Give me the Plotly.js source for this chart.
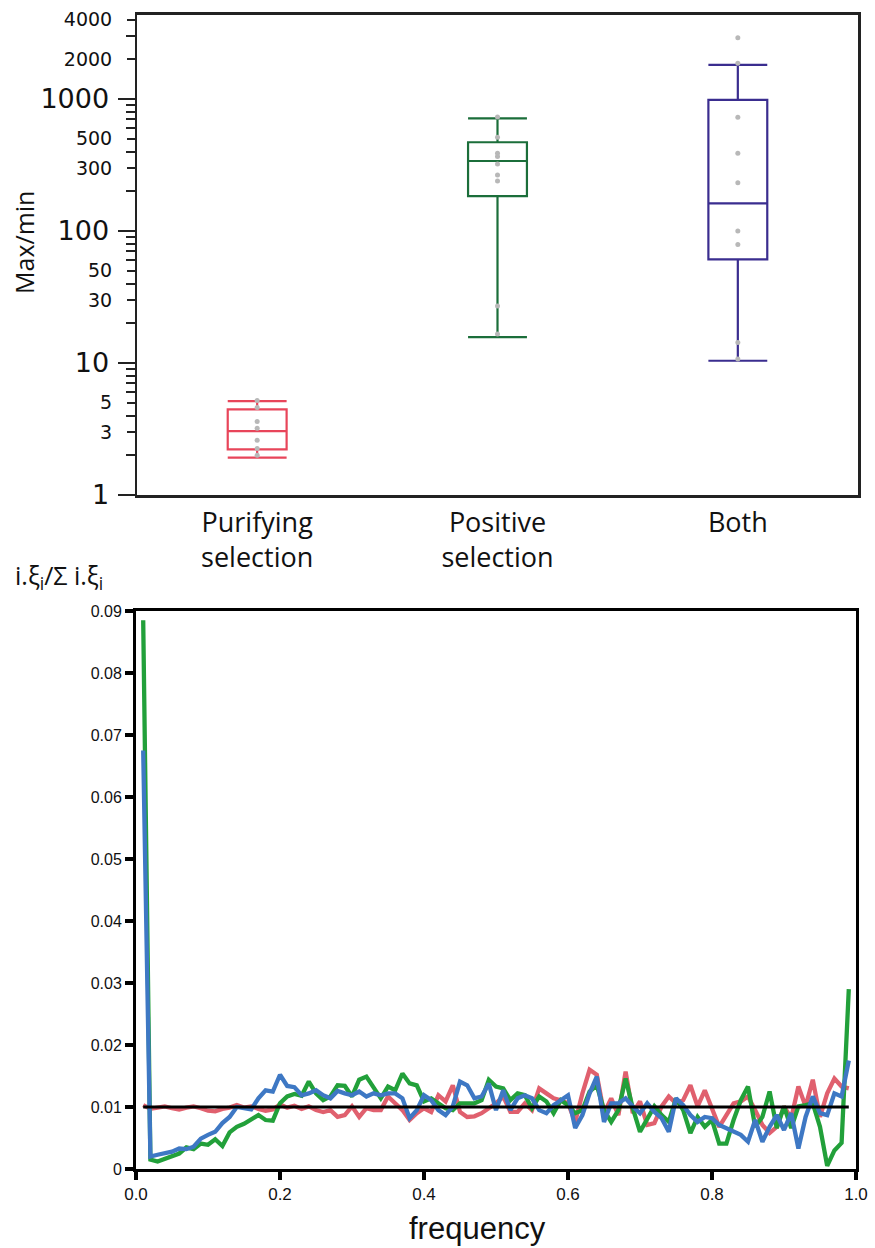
<!DOCTYPE html>
<html>
<head>
<meta charset="utf-8">
<script src="https://cdn.plot.ly/plotly-3.0.1.min.js"></script>
<style>html,body{margin:0;padding:0;background:#fff;}#chart{width:875px;height:1248px;}</style>
</head>
<body>
<div id="chart"></div>
<script>
// ---------- Top panel: box plots (log scale) ----------
const groupLabels = ['Purifying<br>selection', 'Positive<br>selection', 'Both'];
const groupPos = [0, 1, 2];
const boxLower  = [1.92, 15.7, 10.4];
const boxQ1     = [2.22, 184, 61];
const boxMedian = [3.05, 339, 162];
const boxQ3     = [4.46, 470, 983];
const boxUpper  = [5.15, 714, 1810];
const boxColors = ['#E8455A', '#1B6E3A', '#3A2D8F'];
const pointsPurifying = [5.2, 4.6, 3.6, 3.2, 2.6, 2.25, 2.0];
const pointsPositive  = [730, 513, 388, 366, 322, 266, 239, 27, 16.6];
const pointsBoth      = [2913, 1863, 727, 388, 232, 100, 79, 14.3, 10.7];

const majorTicks = [1, 10, 100, 1000];
const majorTickText = ['1', '10', '100', '1000'];
const labeledMinorTicks = [3, 5, 30, 50, 300, 500, 2000, 4000];
const labeledMinorText = ['3', '5', '30', '50', '300', '500', '2000', '4000'];
const unlabeledTicks = [2, 4, 6, 7, 8, 9, 20, 40, 60, 70, 80, 90, 200, 400, 600, 700, 800, 900, 3000];

// ---------- Bottom panel: site frequency spectrum ----------
const freq = [0.01,0.02,0.03,0.04,0.05,0.06,0.07,0.08,0.09,0.10,0.11,0.12,0.13,0.14,0.15,0.16,0.17,0.18,0.19,0.20,0.21,0.22,0.23,0.24,0.25,
0.26,0.27,0.28,0.29,0.30,0.31,0.32,0.33,0.34,0.35,0.36,0.37,0.38,0.39,0.40,0.41,0.42,0.43,0.44,0.45,0.46,0.47,0.48,0.49,0.50,
0.51,0.52,0.53,0.54,0.55,0.56,0.57,0.58,0.59,0.60,0.61,0.62,0.63,0.64,0.65,0.66,0.67,0.68,0.69,0.70,0.71,0.72,0.73,0.74,0.75,
0.76,0.77,0.78,0.79,0.80,0.81,0.82,0.83,0.84,0.85,0.86,0.87,0.88,0.89,0.90,0.91,0.92,0.93,0.94,0.95,0.96,0.97,0.98,0.99];
const redSeries = [0.0103,0.0097,0.0099,0.0101,0.0098,0.0096,0.0099,0.0101,0.0098,0.0094,0.0093,0.0097,0.0099,0.0103,0.0099,0.0101,0.0097,0.0094,0.0096,0.0104,0.0099,0.0102,0.0097,0.0101,0.0095,
0.0092,0.0095,0.0084,0.0087,0.0101,0.0084,0.0098,0.0095,0.0095,0.0117,0.0106,0.0095,0.0079,0.0090,0.0098,0.0092,0.0119,0.0109,0.0135,0.0092,0.0084,0.0085,0.0090,0.0098,0.0106,
0.0117,0.0092,0.0092,0.0106,0.0095,0.0130,0.0122,0.0114,0.0111,0.0106,0.0076,0.0122,0.0160,0.0152,0.0090,0.0114,0.0087,0.0157,0.0090,0.0109,0.0071,0.0074,0.0101,0.0117,0.0106,
0.0111,0.0135,0.0101,0.0127,0.0095,0.0068,0.0087,0.0106,0.0109,0.0117,0.0095,0.0071,0.0058,0.0068,0.0101,0.0082,0.0133,0.0101,0.0144,0.0084,0.0122,0.0146,0.0133,0.0130];
const greenSeries = [0.0885,0.0015,0.0012,0.0016,0.0020,0.0025,0.0035,0.0032,0.0041,0.0039,0.0048,0.0037,0.0059,0.0068,0.0073,0.0080,0.0087,0.0079,0.0078,0.0106,0.0117,0.0121,0.0118,0.0141,0.0122,
0.0111,0.0117,0.0135,0.0134,0.0117,0.0144,0.0149,0.0130,0.0114,0.0133,0.0127,0.0154,0.0138,0.0135,0.0109,0.0114,0.0106,0.0098,0.0095,0.0106,0.0106,0.0106,0.0111,0.0144,0.0133,
0.0130,0.0111,0.0122,0.0119,0.0098,0.0117,0.0109,0.0090,0.0111,0.0103,0.0090,0.0095,0.0125,0.0135,0.0095,0.0076,0.0095,0.0146,0.0098,0.0060,0.0082,0.0101,0.0087,0.0076,0.0114,
0.0095,0.0058,0.0084,0.0068,0.0079,0.0041,0.0041,0.0079,0.0111,0.0133,0.0068,0.0084,0.0125,0.0066,0.0101,0.0066,0.0101,0.0103,0.0106,0.0068,0.0005,0.0030,0.0042,0.0290];
const blueSeries = [0.0675,0.0020,0.0023,0.0025,0.0028,0.0033,0.0032,0.0036,0.0049,0.0055,0.0060,0.0074,0.0084,0.0100,0.0098,0.0096,0.0114,0.0127,0.0125,0.0152,0.0134,0.0132,0.0119,0.0122,0.0127,
0.0119,0.0114,0.0126,0.0122,0.0119,0.0125,0.0117,0.0122,0.0119,0.0122,0.0122,0.0114,0.0082,0.0095,0.0119,0.0111,0.0095,0.0087,0.0101,0.0141,0.0135,0.0114,0.0117,0.0138,0.0095,
0.0127,0.0095,0.0114,0.0119,0.0114,0.0095,0.0090,0.0103,0.0111,0.0119,0.0066,0.0087,0.0122,0.0149,0.0076,0.0106,0.0106,0.0114,0.0101,0.0090,0.0106,0.0092,0.0082,0.0060,0.0114,
0.0103,0.0087,0.0076,0.0084,0.0082,0.0071,0.0066,0.0060,0.0055,0.0044,0.0079,0.0044,0.0068,0.0087,0.0063,0.0090,0.0033,0.0084,0.0117,0.0090,0.0087,0.0122,0.0117,0.0175];
const neutralX = [0.01, 0.99];
const neutralY = [0.01, 0.01];
const sfsYTicks = [0, 0.01, 0.02, 0.03, 0.04, 0.05, 0.06, 0.07, 0.08, 0.09];
const sfsYText = ['0', '0.01', '0.02', '0.03', '0.04', '0.05', '0.06', '0.07', '0.08', '0.09'];
const sfsXTicks = [0, 0.2, 0.4, 0.6, 0.8, 1.0];
const sfsXText = ['0.0', '0.2', '0.4', '0.6', '0.8', '1.0'];

// ---------- Build traces ----------
const traces = [];
for (let k = 0; k < 3; k++) {
  traces.push({
    type: 'box', x: [groupPos[k]], q1: [boxQ1[k]], median: [boxMedian[k]], q3: [boxQ3[k]],
    lowerfence: [boxLower[k]], upperfence: [boxUpper[k]],
    width: 0.245, whiskerwidth: 1, boxpoints: false,
    line: {color: boxColors[k], width: 2.2}, fillcolor: 'rgba(255,255,255,0)',
    xaxis: 'x', yaxis: 'y', showlegend: false, hoverinfo: 'skip'
  });
}
const allPts = [pointsPurifying, pointsPositive, pointsBoth];
for (let k = 0; k < 3; k++) {
  traces.push({
    type: 'scatter', mode: 'markers', x: allPts[k].map(() => groupPos[k]), y: allPts[k],
    marker: {color: '#b8b8b8', size: 5}, xaxis: 'x', yaxis: 'y2', showlegend: false, hoverinfo: 'skip'
  });
}
const sfsColors = ['#E0606E', '#22A03A', '#3E78C4'];
[redSeries, greenSeries, blueSeries].forEach((s, k) => {
  traces.push({
    type: 'scatter', mode: 'lines', x: freq, y: s,
    line: {color: sfsColors[k], width: 4.3}, xaxis: 'x3', yaxis: 'y3', showlegend: false, hoverinfo: 'skip'
  });
});
traces.push({
  type: 'scatter', mode: 'lines', x: neutralX, y: neutralY,
  line: {color: '#000', width: 3}, xaxis: 'x3', yaxis: 'y3', showlegend: false, hoverinfo: 'skip'
});

const W = 875, H = 1248;
const yRange = [0, 3.64];
const layout = {
  width: W, height: H,
  margin: {l: 0, r: 0, t: 0, b: 0},
  paper_bgcolor: '#fff', plot_bgcolor: '#fff',
  showlegend: false,
  font: {family: 'DejaVu Sans, sans-serif', color: '#111'},
  xaxis: {
    domain: [137 / W, 858 / W], anchor: 'y', range: [-0.5, 2.5],
    tickmode: 'array', tickvals: groupPos, ticktext: groupLabels,
    ticks: '', showgrid: false, zeroline: false,
    showline: true, mirror: true, linecolor: '#222', linewidth: 2.5,
    tickfont: {family: 'Open Sans, sans-serif', size: 27, color: '#111'},
    ticklabelstandoff: 2
  },
  yaxis: {
    domain: [1 - 495 / H, 1 - 14.5 / H], anchor: 'x', type: 'log', range: yRange,
    tickmode: 'array', tickvals: majorTicks, ticktext: majorTickText,
    ticks: 'outside', ticklen: 17, tickwidth: 2, tickcolor: '#222',
    tickfont: {family: 'DejaVu Sans, sans-serif', size: 27, color: '#111'},
    ticklabelstandoff: 3,
    minor: {tickmode: 'array', tickvals: unlabeledTicks, ticks: 'outside', ticklen: 9, tickwidth: 2, tickcolor: '#222'},
    showgrid: false, zeroline: false,
    showline: true, mirror: true, linecolor: '#222', linewidth: 2.5
  },
  yaxis2: {
    overlaying: 'y', anchor: 'x', side: 'left', type: 'log', range: yRange,
    tickmode: 'array', tickvals: labeledMinorTicks, ticktext: labeledMinorText,
    ticks: 'outside', ticklen: 9, tickwidth: 2, tickcolor: '#222',
    tickfont: {family: 'DejaVu Sans, sans-serif', size: 19, color: '#111'},
    ticklabelstandoff: 11,
    showgrid: false, zeroline: false, showline: false
  },
  xaxis3: {
    domain: [136 / W, 856 / W], anchor: 'y3', range: [0, 1],
    tickmode: 'array', tickvals: sfsXTicks, ticktext: sfsXText,
    ticks: 'outside', ticklen: 8, tickwidth: 4, tickcolor: '#000',
    tickfont: {family: 'Liberation Sans, Arial, sans-serif', size: 17, color: '#111'},
    showgrid: false, zeroline: false,
    showline: true, mirror: true, linecolor: '#000', linewidth: 3
  },
  yaxis3: {
    domain: [1 - 1169 / H, 1 - 611 / H], anchor: 'x3', range: [0, 0.09],
    tickmode: 'array', tickvals: sfsYTicks, ticktext: sfsYText,
    ticks: 'outside', ticklen: 8, tickwidth: 4, tickcolor: '#000',
    tickfont: {family: 'Liberation Sans, Arial, sans-serif', size: 16, color: '#111'},
    showgrid: false, zeroline: false,
    showline: true, mirror: true, linecolor: '#000', linewidth: 3
  },
  annotations: [
    {text: 'Max/min', xref: 'paper', yref: 'paper', x: 24 / W, y: 1 - 243 / H,
     xanchor: 'center', yanchor: 'middle', textangle: -90, showarrow: false,
     font: {family: 'Open Sans, sans-serif', size: 25, color: '#111'}},
    {text: 'i.ξ<sub>i</sub>/Σ i.ξ<sub>i</sub>', xref: 'paper', yref: 'paper', x: 13 / W, y: 1 - 576 / H,
     xanchor: 'left', yanchor: 'middle', showarrow: false,
     font: {family: 'Open Sans, sans-serif', size: 25, color: '#111'}},
    {text: 'frequency', xref: 'paper', yref: 'paper', x: 477 / W, y: 1 - 1228 / H,
     xanchor: 'center', yanchor: 'middle', showarrow: false,
     font: {family: 'Liberation Sans, Arial, sans-serif', size: 31, color: '#111'}}
  ]
};

Plotly.newPlot('chart', traces, layout, {staticPlot: true, displayModeBar: false});
</script>
</body>
</html>
